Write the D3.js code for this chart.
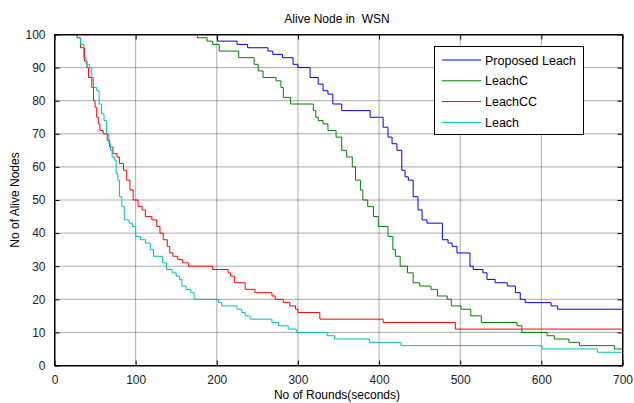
<!DOCTYPE html>
<html>
<head>
<meta charset="utf-8">
<script src="https://cdn.jsdelivr.net/npm/d3@7"></script>
<style>
body { margin: 0; background: #fff; }
text { font-family: Arial, "Liberation Sans", sans-serif; }
</style>
</head>
<body>
<div id="drawhere"></div>
<script>
// data: [round, alive nodes], step after each point
var seriesNames = ["Proposed Leach", "LeachC", "LeachCC", "Leach"];
var seriesColors = ["#0000ff", "#008000", "#ff0000", "#00bfbf"];

var proposedLeach = [[0,100],[201,98],[225,97],[238,96],[263,95],[269,94],[281,93],[294,91],[300,90],[315,87],
    [325,85],[331,83],[337,82],[343,79],[354,77],[389,75],[405,72],[411,69],[416,67],[422,65],[428,59],[432,57],
    [436,56],[442,51],[448,47],[453,44],[459,43],[478,38],[485,37],[490,36],[496,34],[512,30],[516,29],[528,28],
    [533,26],[543,25],[558,24],[568,22],[574,20],[580,19],[612,18],[620,17],[700,17]];

var leachC = [[0,100],[176,99],[188,98],[195,97],[203,95],[227,93],[246,91],[251,89],[257,87],[273,86],[279,84],
    [282,81],[291,79],[319,77],[322,75],[325,74],[331,73],[337,71],[347,69],[354,65],[360,63],[367,60],[371,56],
    [377,53],[380,50],[386,48],[393,45],[399,42],[411,39],[417,35],[420,33],[426,30],[435,28],[442,25],[450,24],
    [464,23],[472,21],[484,20],[489,18],[501,17],[513,15],[526,13],[570,12],[576,10],[607,9],[616,8],[634,7],
    [647,6],[690,5],[700,5]];

var leachCC = [[0,100],[28,99],[32,96],[37,92],[40,90],[42,87],[46,84],[48,80],[50,78],[52,75],[54,73],[56,71],
    [60,70],[65,68],[68,66],[72,64],[77,63],[80,61],[85,59],[89,56],[93,53],[97,50],[103,48],[108,47],[112,45],
    [120,44],[126,42],[130,40],[134,38],[139,36],[142,34],[146,33],[152,32],[158,31],[165,30],[195,29],[214,28],
    [217,27],[222,25],[235,23],[247,22],[268,21],[272,20],[282,19],[290,18],[297,17],[300,16],[327,14],[405,13],
    [494,11],[700,11]];

var leach = [[0,100],[28,99],[32,97],[36,93],[39,91],[43,90],[46,87],[48,84],[52,83],[55,79],[58,76],[61,74],
    [64,70],[67,67],[69,65],[71,63],[74,62],[76,58],[78,56],[80,51],[83,48],[86,44],[92,43],[96,42],[100,39],
    [106,38],[112,37],[118,35],[122,33],[133,31],[138,29],[145,28],[150,27],[154,26],[157,24],[162,23],[168,22],
    [172,20],[202,19],[206,18],[225,17],[231,16],[235,15],[241,14],[268,13],[276,12],[288,11],[298,10],[336,9],
    [345,8],[388,7],[427,6],[601,5],[669,4],[700,4]];

var xTicks = [0, 100, 200, 300, 400, 500, 600, 700];
var yTicks = [0, 10, 20, 30, 40, 50, 60, 70, 80, 90, 100];

var allSeries = [proposedLeach, leachC, leachCC, leach];

var width = 634, height = 403;
var plotLeft = 54.5, plotRight = 622.5, plotTop = 34.5, plotBottom = 365.5;

var svg = d3.select("#drawhere").append("svg")
    .attr("width", width)
    .attr("height", height);

var x = d3.scaleLinear().domain([0, 700]).range([plotLeft, plotRight]);
var y = d3.scaleLinear().domain([0, 100]).range([plotBottom, plotTop]);

//grid lines
svg.append("g").selectAll("line").data(xTicks.slice(1, -1)).enter().append("line")
    .attr("x1", function(d) { return x(d); })
    .attr("x2", function(d) { return x(d); })
    .attr("y1", plotTop).attr("y2", plotBottom)
    .attr("stroke", "#555").attr("stroke-dasharray", "1,1");
svg.append("g").selectAll("line").data(yTicks.slice(1, -1)).enter().append("line")
    .attr("y1", function(d) { return y(d); })
    .attr("y2", function(d) { return y(d); })
    .attr("x1", plotLeft).attr("x2", plotRight)
    .attr("stroke", "#555").attr("stroke-dasharray", "1,1");

//the curves
var line = d3.line()
    .x(function(d) { return x(d[0]); })
    .y(function(d) { return y(d[1]); })
    .curve(d3.curveStepAfter);

svg.append("g").selectAll("path").data(allSeries).enter().append("path")
    .attr("d", line)
    .attr("fill", "none")
    .attr("stroke", function(d, i) { return seriesColors[i]; })
    .attr("stroke-width", 1);

//axes with inner ticks on all four sides
svg.append("g").attr("transform", "translate(0," + plotBottom + ")")
    .call(d3.axisBottom(x).tickValues(xTicks).tickSizeInner(-5).tickSizeOuter(0).tickPadding(10));
svg.append("g").attr("transform", "translate(0," + plotTop + ")")
    .call(d3.axisTop(x).tickValues(xTicks).tickSizeInner(-5).tickSizeOuter(0).tickFormat(""));
svg.append("g").attr("transform", "translate(" + plotLeft + ",0)")
    .call(d3.axisLeft(y).tickValues(yTicks).tickSizeInner(-5).tickSizeOuter(0).tickPadding(9));
svg.append("g").attr("transform", "translate(" + plotRight + ",0)")
    .call(d3.axisRight(y).tickValues(yTicks).tickSizeInner(-5).tickSizeOuter(0).tickFormat(""));

svg.selectAll(".domain").attr("stroke", "#000");
svg.selectAll(".tick line").attr("stroke", "#000");
svg.selectAll(".tick text").attr("font-size", 12).attr("fill", "#222")
    .style("font-family", "Arial, 'Liberation Sans', sans-serif");

svg.append("rect")
    .attr("x", plotLeft).attr("y", plotTop)
    .attr("width", plotRight - plotLeft).attr("height", plotBottom - plotTop)
    .attr("fill", "none").attr("stroke", "#000");

//title and labels
svg.append("text").attr("x", 337).attr("y", 23)
    .attr("text-anchor", "middle").attr("font-size", 12)
    .attr("xml:space", "preserve")
    .text("Alive Node in  WSN");
svg.append("text").attr("x", 337).attr("y", 399)
    .attr("text-anchor", "middle").attr("font-size", 12)
    .text("No of Rounds(seconds)");
svg.append("text")
    .attr("transform", "translate(19,200) rotate(-90)")
    .attr("text-anchor", "middle").attr("font-size", 12)
    .text("No of Alive Nodes");

//legend
var legend = svg.append("g");
legend.append("rect")
    .attr("x", 434.5).attr("y", 46.5).attr("width", 149).attr("height", 88)
    .attr("fill", "#fff").attr("stroke", "#000");
var rows = legend.selectAll("g").data(seriesNames).enter().append("g")
    .attr("transform", function(d, i) { return "translate(0," + (60 + i * 20.8) + ")"; });
rows.append("line")
    .attr("x1", 442).attr("x2", 481).attr("y1", 0).attr("y2", 0)
    .attr("stroke", function(d, i) { return seriesColors[i]; });
rows.append("text")
    .attr("x", 485).attr("y", 4.5).attr("font-size", 12.5)
    .text(function(d) { return d; });
</script>
</body>
</html>
